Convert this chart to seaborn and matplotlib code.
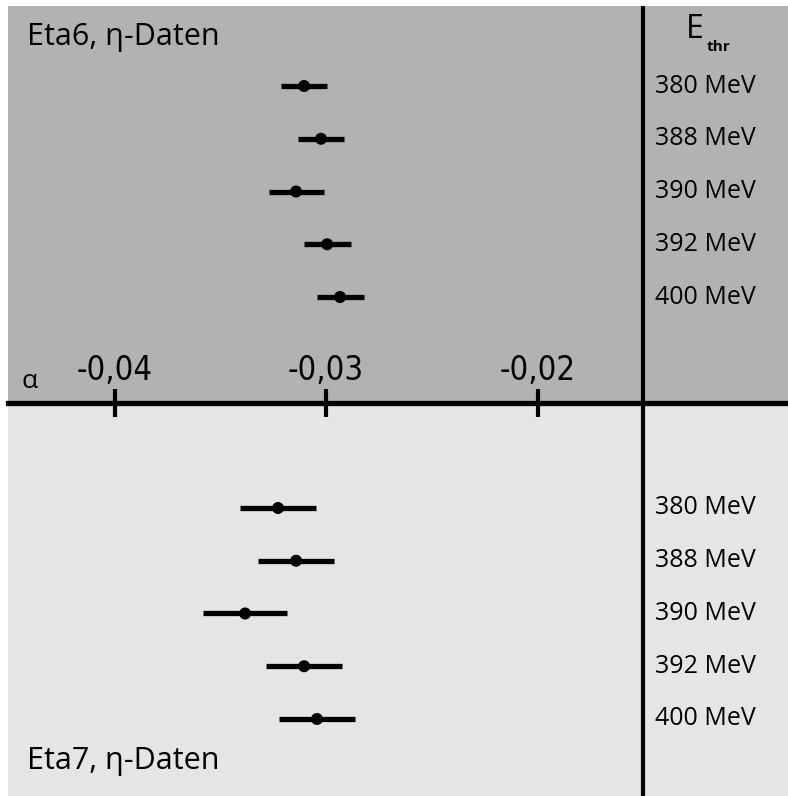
import numpy as np
import pandas as pd
import seaborn as sns
import matplotlib.pyplot as plt

energies = ['380 MeV', '388 MeV', '390 MeV', '392 MeV', '400 MeV']
eta6_alpha = [-0.03104, -0.03024, -0.03142, -0.02995, -0.02934]
eta6_err = [0.00109, 0.00109, 0.00130, 0.00111, 0.00111]
eta7_alpha = [-0.03227, -0.03142, -0.03383, -0.03104, -0.03043]
eta7_err = [0.00180, 0.00180, 0.00200, 0.00180, 0.00180]
tick_vals = [-0.04, -0.03, -0.02]
tick_labels = ['-0,04', '-0,03', '-0,02']

sns.set_theme(style="white")
plt.rcParams['font.family'] = ['Open Sans', 'DejaVu Sans']
plt.rcParams['text.color'] = 'black'
plt.rcParams['xtick.color'] = 'black'

# rows: top panel 0..4, axis at 6, bottom panel 8..12
n = len(energies)
df = pd.DataFrame({
    'alpha': eta6_alpha + eta7_alpha,
    'err': eta6_err + eta7_err,
    'row': list(range(n)) + [r + n + 3 for r in range(n)],
    'label': energies + energies,
})
axis_row = n + 1
x_split = -0.015

fig = plt.figure(figsize=(7.88, 7.96), dpi=100)
ax = fig.add_axes([8 / 788, 0, 780 / 788, 790 / 796])
ax.set_xlim(-0.04504, -0.00816)
ax.set_ylim(13.46, -1.517)

ax.axhspan(-1.517, axis_row, color='#b2b2b2', zorder=0, lw=0)
ax.axhspan(axis_row, 13.46, color='#e5e5e5', zorder=0, lw=0)

ax.hlines(df['row'], df['alpha'] - df['err'], df['alpha'] + df['err'],
          color='black', lw=3.8, zorder=2)
sns.scatterplot(data=df, x='alpha', y='row', color='black', s=75,
                edgecolor='none', ax=ax, zorder=3, legend=False)

# alpha axis through the middle
for s in ['left', 'right', 'bottom']:
    ax.spines[s].set_visible(False)
ax.spines['top'].set_position(('data', axis_row))
ax.spines['top'].set_linewidth(3.8)
ax.spines['top'].set_color('black')
ax.spines['top'].set_zorder(4)
ax.xaxis.tick_top()
ax.set_xticks(tick_vals)
ax.set_xticklabels(tick_labels, fontsize=23.5, family='DejaVu Sans',
                   fontstretch='condensed', color='black')
ax.tick_params(axis='x', direction='inout', length=20, width=3,
               color='black', pad=1)
ax.set_yticks([])
ax.set_xlabel('')
ax.set_ylabel('')
ax.axvline(x_split, color='black', lw=3, zorder=4)

ax.text(-0.04504 + 0.00065, 5.72, 'α', fontsize=19, va='baseline', ha='left')

for _, r in df.iterrows():
    ax.text(-0.01444, r['row'], r['label'], fontsize=18, va='center', ha='left')

ax.text(-0.01300, -0.915, 'E', fontsize=23, va='baseline', ha='left')
ax.text(-0.01200, -0.66, 'thr', fontsize=11, fontweight='bold', va='baseline', ha='left')

ax.text(-0.04414, -0.777, 'Eta6, η-Daten', fontsize=22, va='baseline', ha='left')
ax.text(-0.04414, 12.95, 'Eta7, η-Daten', fontsize=22, va='baseline', ha='left')

fig.savefig('out.png', dpi=100, facecolor='white')
